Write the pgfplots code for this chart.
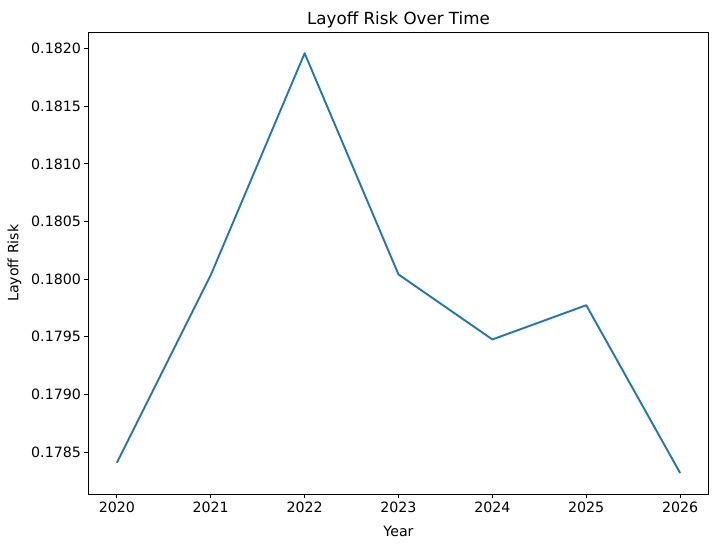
\documentclass[border=0pt]{standalone}
\usepackage{pgfplots}
\pgfplotsset{compat=1.18}
\usepackage{fontspec}
\setmainfont{DejaVu Sans}
\definecolor{tabblue}{HTML}{1F77B4}
\begin{document}
\begin{tikzpicture}[x=1pt,y=1pt]
\path[use as bounding box] (0,0) rectangle (717,547);
\begin{axis}[
  at={(88.7pt,53pt)}, anchor=south west,
  scale only axis, width=619.6pt, height=461.7pt,
  xmin=2019.7, xmax=2026.3,
  ymin=0.178136, ymax=0.182142,
  xtick={2020,...,2026},
  ytick={0.1785,0.1790,0.1795,0.1800,0.1805,0.1810,0.1815,0.1820},
  x tick label style={/pgf/number format/.cd,1000 sep={}},
  yticklabel style={/pgf/number format/.cd,fixed,fixed zerofill,precision=4},
  scaled y ticks=false,
  /pgf/number format/assume math mode=true,
  tick align=outside, tick pos=left,
  major tick length=4.3pt,
  tick style={black, line width=0.9pt},
  axis line style={black, line width=0.9pt},
  ticklabel style={font=\fontsize{14.2}{16}\selectfont},
  xlabel={Year}, ylabel={Layoff Risk},
  label style={font=\fontsize{14.2}{16}\selectfont},
  xlabel style={yshift=-7pt},
  ylabel style={yshift=3pt},
  title={Layoff Risk Over Time},
  title style={font=\fontsize{16.7}{19}\selectfont, yshift=-5pt},
  clip=false,
]
\addplot[color=tabblue, line width=1.9pt, line join=round] coordinates {
  (2020,0.178407)
  (2021,0.180035)
  (2022,0.181960)
  (2023,0.180041)
  (2024,0.179477)
  (2025,0.179774)
  (2026,0.178318)
};
\end{axis}
\end{tikzpicture}
\end{document}
